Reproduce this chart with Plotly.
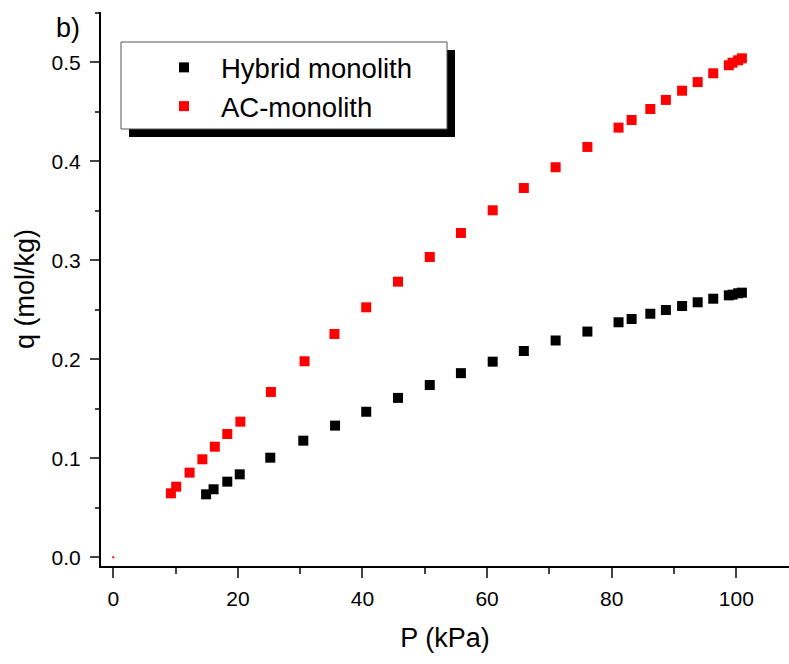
import plotly.graph_objects as go

# CO2 adsorption isotherm data: pressure (kPa) and uptake q (mol/kg)
hybrid_p = [14.9, 16.1, 18.3, 20.3, 25.2, 30.5, 35.6, 40.6, 45.7, 50.8, 55.8, 60.9, 65.9,
            71.0, 76.1, 81.1, 83.2, 86.2, 88.7, 91.3, 93.8, 96.3, 98.8, 99.4, 100.3, 100.9]
hybrid_q = [0.0636, 0.0687, 0.0764, 0.0838, 0.1006, 0.1178, 0.133, 0.147, 0.161, 0.174, 0.186,
            0.1976, 0.2084, 0.219, 0.228, 0.2374, 0.2407, 0.246, 0.2498, 0.2538, 0.2576,
            0.2612, 0.2646, 0.2653, 0.2667, 0.2673]

ac_p = [9.25, 10.1, 12.25, 14.3, 16.3, 18.3, 20.4, 25.3, 30.7, 35.5, 40.6, 45.7, 50.8, 55.8,
        60.9, 65.9, 71.0, 76.1, 81.1, 83.2, 86.2, 88.7, 91.3, 93.8, 96.3, 98.8, 99.4, 100.3, 100.9]
ac_q = [0.0646, 0.0713, 0.0855, 0.099, 0.1117, 0.1245, 0.137, 0.167, 0.198, 0.2256, 0.2525,
        0.2784, 0.3033, 0.3276, 0.3505, 0.373, 0.394, 0.4145, 0.434, 0.4417, 0.4528, 0.462,
        0.4713, 0.480, 0.4889, 0.497, 0.4996, 0.502, 0.504]

origin_p = [0.0]
origin_q = [0.0]

series_names = ["Hybrid monolith", "AC-monolith"]
x_ticks = [0, 20, 40, 60, 80, 100]
y_ticks = [0.0, 0.1, 0.2, 0.3, 0.4, 0.5]
y_tick_text = ["0.0", "0.1", "0.2", "0.3", "0.4", "0.5"]

FONT = "Liberation Sans, Arial, sans-serif"

fig = go.Figure()
fig.add_trace(go.Scatter(x=hybrid_p, y=hybrid_q, mode="markers", name=series_names[0],
                         marker=dict(symbol="square", size=10, color="#000000")))
fig.add_trace(go.Scatter(x=ac_p, y=ac_q, mode="markers", name=series_names[1],
                         marker=dict(symbol="square", size=10, color="#ff0000")))
fig.add_trace(go.Scatter(x=origin_p, y=origin_q, mode="markers", showlegend=False,
                         marker=dict(symbol="square", size=2, color="#ff0000")))

x_range = [-1.97, 108.46]
y_range = [-0.0088, 0.5508]

# plot area in pixels: left 101, top 12, width 688, height 554
PL, PT, PW, PH = 101, 12, 688, 554


def px(x):
    return (x - PL) / PW


def py(y):
    return (PT + PH - y) / PH


fig.update_layout(
    width=789, height=664,
    margin=dict(l=PL, r=0, t=PT, b=664 - PT - PH),
    paper_bgcolor="white", plot_bgcolor="white",
    font=dict(family=FONT, color="black"),
    showlegend=True,
    legend=dict(x=px(147), y=py(43), xanchor="left", yanchor="top",
                bgcolor="rgba(0,0,0,0)", borderwidth=0,
                font=dict(size=27.5, family=FONT), itemwidth=64, tracegroupgap=0),
    xaxis=dict(range=x_range, tickvals=x_ticks, ticks="outside", ticklen=10, tickwidth=2,
               showline=True, linewidth=2, linecolor="black", showgrid=False, zeroline=False,
               tickfont=dict(size=21, family=FONT), ticklabelstandoff=3,
               minor=dict(ticks="outside", ticklen=6, tickwidth=2, dtick=10, tick0=0,
                          showgrid=False),
               title=dict(text="P (kPa)", font=dict(size=27, family=FONT), standoff=19)),
    xaxis2=dict(range=x_range, overlaying="x", side="top", dtick=10, tick0=0,
                ticks="inside", ticklen=3, tickwidth=1, showticklabels=False,
                showline=True, linewidth=2, linecolor="black", showgrid=False, zeroline=False),
    yaxis=dict(range=y_range, tickvals=y_ticks, ticktext=y_tick_text, ticks="outside",
               ticklen=9, tickwidth=2, showline=True, linewidth=2, linecolor="black",
               showgrid=False, zeroline=False, tickfont=dict(size=21, family=FONT),
               ticklabelstandoff=5,
               minor=dict(ticks="outside", ticklen=4, tickwidth=2, dtick=0.05, tick0=0,
                          showgrid=False),
               title=dict(text="q (mol/kg)", font=dict(size=27, family=FONT), standoff=9)),
)

# Legend frame: drop shadow, then white box with thin border
fig.add_shape(type="rect", xref="paper", yref="paper",
              x0=px(129), x1=px(455), y0=py(137), y1=py(50),
              fillcolor="black", line=dict(width=0), layer="above")
fig.add_shape(type="rect", xref="paper", yref="paper",
              x0=px(121), x1=px(447), y0=py(129), y1=py(42),
              fillcolor="white", line=dict(width=1, color="#555555"), layer="above")

fig.add_annotation(text="b)", xref="paper", yref="paper", x=px(82), y=py(28),
                   xanchor="right", yanchor="middle", showarrow=False,
                   font=dict(size=27, family=FONT))

fig.write_html("out.html")
